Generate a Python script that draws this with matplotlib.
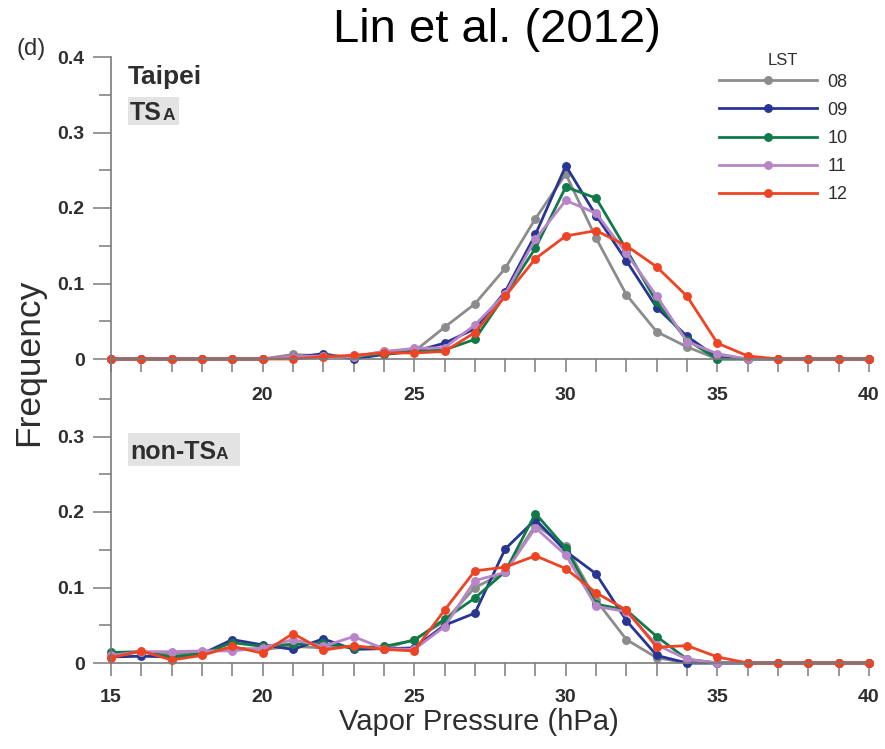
import matplotlib
matplotlib.use("Agg")
import matplotlib.pyplot as plt
from matplotlib.patches import Rectangle
from matplotlib.lines import Line2D
import numpy as np

plt.rcParams['font.family'] = ['Liberation Sans', 'DejaVu Sans']

# Vapor pressure bins (hPa)
vapor = list(range(15, 41))

# Frequency distributions, TSA days
tsa_08 = [0, 0, 0, 0, 0, 0, 0.006, 0.004, 0.003, 0.010, 0.010, 0.042, 0.073, 0.120, 0.186,
          0.245, 0.160, 0.085, 0.036, 0.016, 0.000, 0, 0, 0, 0, 0]
tsa_09 = [0, 0, 0, 0, 0, 0, 0.002, 0.007, 0.000, 0.006, 0.010, 0.021, 0.040, 0.089, 0.165,
          0.256, 0.190, 0.130, 0.068, 0.030, 0.002, 0, 0, 0, 0, 0]
tsa_10 = [0, 0, 0, 0, 0, 0, 0.002, 0.004, 0.003, 0.007, 0.010, 0.012, 0.026, 0.085, 0.147,
          0.228, 0.213, 0.145, 0.075, 0.025, 0.000, 0, 0, 0, 0, 0]
tsa_11 = [0, 0, 0, 0, 0, 0, 0.003, 0.004, 0.003, 0.010, 0.014, 0.015, 0.045, 0.086, 0.159,
          0.210, 0.193, 0.140, 0.083, 0.023, 0.007, 0, 0, 0, 0, 0]
tsa_12 = [0, 0, 0, 0, 0, 0, 0.000, 0.003, 0.005, 0.008, 0.008, 0.010, 0.035, 0.083, 0.133,
          0.163, 0.170, 0.150, 0.122, 0.083, 0.021, 0.004, 0, 0, 0, 0]

# Frequency distributions, non-TSA days
non_08 = [0.012, 0.014, 0.012, 0.015, 0.020, 0.018, 0.022, 0.020, 0.022, 0.019, 0.031, 0.055,
          0.100, 0.120, 0.183, 0.155, 0.083, 0.031, 0.007, 0.000, 0, 0, 0, 0, 0, 0]
non_09 = [0.008, 0.009, 0.008, 0.012, 0.031, 0.024, 0.018, 0.032, 0.018, 0.019, 0.020, 0.050,
          0.066, 0.151, 0.190, 0.148, 0.118, 0.056, 0.010, 0.000, 0, 0, 0, 0, 0, 0]
non_10 = [0.014, 0.015, 0.008, 0.012, 0.027, 0.022, 0.025, 0.026, 0.020, 0.022, 0.030, 0.058,
          0.086, 0.121, 0.198, 0.152, 0.078, 0.070, 0.035, 0.005, 0, 0, 0, 0, 0, 0]
non_11 = [0.010, 0.015, 0.015, 0.016, 0.016, 0.020, 0.031, 0.022, 0.035, 0.019, 0.018, 0.048,
          0.109, 0.120, 0.179, 0.143, 0.075, 0.068, 0.024, 0.005, 0, 0, 0, 0, 0, 0]
non_12 = [0.007, 0.016, 0.004, 0.010, 0.022, 0.013, 0.039, 0.017, 0.023, 0.018, 0.016, 0.070,
          0.122, 0.127, 0.142, 0.125, 0.093, 0.070, 0.021, 0.023, 0.008, 0, 0, 0, 0, 0]

hours = ['08', '09', '10', '11', '12']
colors = ['#8c8c8c', '#283593', '#107a48', '#b886c8', '#ee4423']

W, H = 885, 749
fig = plt.figure(figsize=(W / 100, H / 100), dpi=100)


def fx(x):
    return x / W


def fy(y):
    return 1 - y / H


left, right = 111, 869
ax_top = fig.add_axes([fx(left), fy(359), fx(right - left), (359 - 57) / H])
ax_bot = fig.add_axes([fx(left), fy(663), fx(right - left), (663 - 361) / H])

spine_c = '#7a7a7a'
text_c = '#2e2e2e'

for ax, series in ((ax_top, [tsa_08, tsa_09, tsa_10, tsa_11, tsa_12]),
                   (ax_bot, [non_08, non_09, non_10, non_11, non_12])):
    for vals, c in zip(series, colors):
        ax.plot(vapor, vals, color=c, lw=2.0, marker='o', ms=5.4,
                clip_on=False, solid_joinstyle='round')
    ax.set_xlim(15, 40)
    ax.set_ylim(0, 0.4)
    for s in ('top', 'right'):
        ax.spines[s].set_visible(False)
    for s in ('left', 'bottom'):
        ax.spines[s].set_color(spine_c)
        ax.spines[s].set_linewidth(1.2)
    ax.set_xticks(range(15, 41))
    ax.set_xticks([], minor=True)
    ax.tick_params(axis='x', which='major', length=9.5, width=1.1, color=spine_c,
                   labelsize=14, labelcolor=text_c, direction='out')
    ax.set_yticks(np.arange(0.05, 0.4, 0.1), minor=True)
    ax.tick_params(axis='y', which='major', length=13, width=1.1, color=spine_c,
                   labelsize=14, labelcolor=text_c, pad=6)
    ax.tick_params(axis='y', which='minor', length=9, width=1.1, color=spine_c)
    ax.patch.set_alpha(0)

xlab_top = [str(v) if v % 5 == 0 and v != 15 else '' for v in range(15, 41)]
xlab_bot = [str(v) if v % 5 == 0 else '' for v in range(15, 41)]
ax_top.set_xticklabels(xlab_top, fontweight='bold')
ax_bot.set_xticklabels(xlab_bot, fontweight='bold')
ax_top.tick_params(axis='x', pad=11)
ax_bot.tick_params(axis='x', pad=9)

ax_top.set_yticks([0, 0.1, 0.2, 0.3, 0.4])
ax_top.set_yticklabels(['0', '0.1', '0.2', '0.3', '0.4'], fontweight='bold')
ax_bot.set_yticks([0, 0.1, 0.2, 0.3])
ax_bot.set_yticklabels(['0', '0.1', '0.2', '0.3'], fontweight='bold')

# Titles and axis labels
fig.text(fx(497), fy(30), 'Lin et al. (2012)', fontsize=34, color='black',
         ha='center', va='center')
fig.text(fx(17), fy(55), '(d)', fontsize=17, color=text_c, ha='left', va='baseline')
fig.text(fx(29), fy(362), 'Frequency', fontsize=25.5, color=text_c, rotation=90,
         ha='center', va='center')
fig.text(fx(479), fy(722), 'Vapor Pressure (hPa)', fontsize=21, color=text_c,
         ha='center', va='center')

# Panel annotations
fig.text(fx(128), fy(84), 'Taipei', fontsize=19, fontweight='bold', color=text_c,
         ha='left', va='baseline')
fig.patches.append(Rectangle((fx(128), fy(125)), fx(51), 28 / H, transform=fig.transFigure,
                             facecolor='#e3e3e3', edgecolor='none', zorder=0))
fig.text(fx(130), fy(120), 'TS', fontsize=18, fontweight='bold', color=text_c,
         ha='left', va='baseline')
fig.text(fx(163), fy(120), 'A', fontsize=12.5, fontweight='bold', color=text_c,
         ha='left', va='baseline')
fig.patches.append(Rectangle((fx(128), fy(466)), fx(112), 33 / H, transform=fig.transFigure,
                             facecolor='#e3e3e3', edgecolor='none', zorder=0))
fig.text(fx(130), fy(459), 'non-TS', fontsize=18, fontweight='bold', color=text_c,
         ha='left', va='baseline')
fig.text(fx(216), fy(459), 'A', fontsize=12.5, fontweight='bold', color=text_c,
         ha='left', va='baseline')

# Legend
handles = [Line2D([], [], color=c, lw=2.0, marker='o', ms=5.4) for c in colors]
leg = ax_top.legend(handles, hours, title='LST', loc='upper left',
                    bbox_to_anchor=(fx(719), fy(53)), bbox_transform=fig.transFigure,
                    frameon=False, fontsize=13, title_fontsize=12, handlelength=5.4,
                    handletextpad=0.6, labelspacing=0.62, borderpad=0, borderaxespad=0)
leg._legend_box.sep = 4
for t in leg.get_texts():
    t.set_color(text_c)
leg.get_title().set_color(text_c)

fig.savefig('out.png', dpi=100)
